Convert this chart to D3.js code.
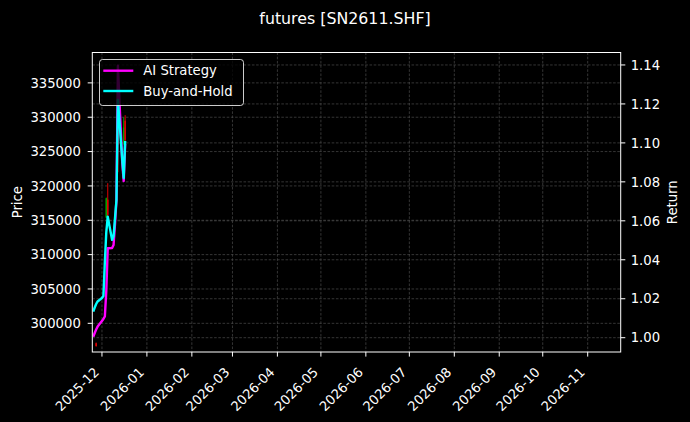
<!DOCTYPE html>
<html>
<head>
<meta charset="utf-8">
<script src="https://cdn.jsdelivr.net/npm/d3@7"></script>
<style>
  html, body { margin: 0; padding: 0; background: #000; }
  svg { display: block; font-family: "DejaVu Sans", sans-serif; }
</style>
</head>
<body>
<svg id="chart" width="690" height="422"></svg>
<script>
// ---------------- data ----------------
const chartTitle = "futures [SN2611.SHF]";
const seriesNames = ["AI Strategy", "Buy-and-Hold"];

const lineDates = ["2025-11-25","2025-11-26","2025-11-27","2025-11-28","2025-12-01","2025-12-02",
  "2025-12-03","2025-12-04","2025-12-05","2025-12-08","2025-12-09","2025-12-10","2025-12-11",
  "2025-12-12","2025-12-15","2025-12-16","2025-12-17"];
const aiReturn = [1.0005,1.0024,1.0042,1.0057,1.0086,1.0096,1.0109,1.0243,1.0459,1.0460,1.0476,
  1.0584,1.0707,1.1396,1.0897,1.0804,1.0994];
const bhReturn = [1.0134,1.0155,1.0173,1.0186,1.0204,1.0214,1.0389,1.0543,1.0621,1.0502,1.0522,
  1.0614,1.0707,1.1220,1.0912,1.0820,1.1010];

const candleDates = ["2025-11-27","2025-12-04","2025-12-05","2025-12-12","2025-12-16","2025-12-17"];
const candleOpen  = [297100, 315400, 318000, 335000, 326300, 329500];
const candleHigh  = [297200, 318300, 320400, 337400, 330000, 330300];
const candleLow   = [296600, 315300, 315500, 322000, 326000, 326500];
const candleClose = [296700, 318200, 315800, 326000, 328500, 326700];

const dateDomain = ["2025-11-24T08:10", "2026-11-23T18:15"];
const priceDomain = [295825, 339422];
const returnDomain = [0.99266, 1.1464];

// ---------------- layout ----------------
const W = 690, H = 422;
const L = 92.3, R = 620.7, T = 52.5, B = 352;
const fs = 13.2;

const svg = d3.select("#chart");
svg.append("rect").attr("width", W).attr("height", H).attr("fill", "#000");

const parse = d3.timeParse("%Y-%m-%d");
const parseT = d3.timeParse("%Y-%m-%dT%H:%M");
const x = d3.scaleTime().domain(dateDomain.map(parseT)).range([L, R]);
const yP = d3.scaleLinear().domain(priceDomain).range([B, T]);
const yR = d3.scaleLinear().domain(returnDomain).range([B, T]);

svg.append("defs").append("clipPath").attr("id", "clip")
  .append("rect").attr("x", L).attr("y", T).attr("width", R - L).attr("height", B - T);

// grid
const grid = svg.append("g").attr("stroke", "#4c4c4c").attr("stroke-width", 0.7)
  .attr("stroke-dasharray", "2.6,1.6");
const xt = x.ticks(d3.timeMonth.every(1));
grid.selectAll(".gx").data(xt).join("line")
  .attr("x1", d => x(d)).attr("x2", d => x(d)).attr("y1", T).attr("y2", B);
const pt = yP.ticks(10);
grid.selectAll(".gp").data(pt).join("line")
  .attr("x1", L).attr("x2", R).attr("y1", d => yP(d)).attr("y2", d => yP(d));
const rt = yR.ticks(10);
grid.selectAll(".gr").data(rt).join("line")
  .attr("x1", L).attr("x2", R).attr("y1", d => yR(d)).attr("y2", d => yR(d));

// candles
const plot = svg.append("g").attr("clip-path", "url(#clip)");
const candles = candleDates.map((d, i) => ({
  date: parse(d), o: candleOpen[i], h: candleHigh[i], l: candleLow[i], c: candleClose[i]
}));
const cg = plot.append("g");
cg.selectAll(".wick").data(candles).join("line")
  .attr("x1", d => x(d.date)).attr("x2", d => x(d.date))
  .attr("y1", d => yP(d.h)).attr("y2", d => yP(d.l))
  .attr("stroke", d => d.c >= d.o ? "#00a000" : "#e00000").attr("stroke-width", 1);
cg.selectAll(".body").data(candles).join("rect")
  .attr("x", d => x(d.date) - 0.8).attr("width", 1.6)
  .attr("y", d => yP(Math.max(d.o, d.c)))
  .attr("height", d => Math.max(1, Math.abs(yP(d.o) - yP(d.c))))
  .attr("fill", d => d.c >= d.o ? "#00a000" : "#e00000");

// lines
const dates = lineDates.map(parse);
const line = d3.line().x(d => x(d[0])).y(d => yR(d[1]));
plot.append("path").datum(dates.map((d, i) => [d, aiReturn[i]]))
  .attr("d", line).attr("fill", "none").attr("stroke", "#ff00ff")
  .attr("stroke-width", 2.4).attr("stroke-linejoin", "round");
plot.append("path").datum(dates.map((d, i) => [d, bhReturn[i]]))
  .attr("d", line).attr("fill", "none").attr("stroke", "#00ffff")
  .attr("stroke-width", 2.4).attr("stroke-linejoin", "round");

// axes
const fmtMonth = d3.timeFormat("%Y-%m");
const axX = svg.append("g").attr("fill", "#fff").attr("font-size", fs);
xt.forEach(d => {
  const tx = x(d);
  axX.append("line").attr("x1", tx).attr("x2", tx).attr("y1", B).attr("y2", B + 4.6)
    .attr("stroke", "#fff").attr("stroke-width", 1);
  axX.append("text").attr("text-anchor", "end")
    .attr("transform", `translate(${tx - 2},${B + 21}) rotate(-45)`)
    .text(fmtMonth(d));
});
const axL = svg.append("g").attr("fill", "#fff").attr("font-size", fs);
pt.forEach(v => {
  const ty = yP(v);
  axL.append("line").attr("x1", L - 4.6).attr("x2", L).attr("y1", ty).attr("y2", ty)
    .attr("stroke", "#fff");
  axL.append("text").attr("x", L - 11.5).attr("y", ty).attr("dy", "0.36em")
    .attr("text-anchor", "end").text(d3.format("d")(v));
});
const axR = svg.append("g").attr("fill", "#fff").attr("font-size", fs);
rt.forEach(v => {
  const ty = yR(v);
  axR.append("line").attr("x1", R).attr("x2", R + 4.6).attr("y1", ty).attr("y2", ty)
    .attr("stroke", "#fff");
  axR.append("text").attr("x", R + 10).attr("y", ty).attr("dy", "0.36em")
    .attr("text-anchor", "start").text(d3.format(".2f")(v));
});

// spines
svg.append("rect").attr("x", L).attr("y", T).attr("width", R - L).attr("height", B - T)
  .attr("fill", "none").attr("stroke", "#fff").attr("stroke-width", 1);

// labels
svg.append("text").attr("fill", "#fff").attr("font-size", fs).attr("text-anchor", "middle")
  .attr("transform", `translate(21.5,${(T + B) / 2}) rotate(-90)`).text("Price");
svg.append("text").attr("fill", "#fff").attr("font-size", fs).attr("text-anchor", "middle")
  .attr("transform", `translate(676.5,${(T + B) / 2}) rotate(-90)`).text("Return");
svg.append("text").attr("fill", "#fff").attr("font-size", 15.8).attr("text-anchor", "middle")
  .attr("x", W / 2).attr("y", 24).text(chartTitle);

// legend
const lg = svg.append("g");
lg.append("rect").attr("x", 99.5).attr("y", 59.5).attr("width", 144).attr("height", 46)
  .attr("rx", 3).attr("fill", "#000").attr("fill-opacity", 0.8)
  .attr("stroke", "#fff").attr("stroke-opacity", 0.8).attr("stroke-width", 1);
const legColors = ["#ff00ff", "#00ffff"];
seriesNames.forEach((n, i) => {
  const ly = 70.7 + i * 20.3;
  lg.append("line").attr("x1", 103.3).attr("x2", 133.3).attr("y1", ly).attr("y2", ly)
    .attr("stroke", legColors[i]).attr("stroke-width", 2.4);
  lg.append("text").attr("x", 143.3).attr("y", ly).attr("dy", "0.36em")
    .attr("fill", "#fff").attr("font-size", fs).text(n);
});
</script>
</body>
</html>
